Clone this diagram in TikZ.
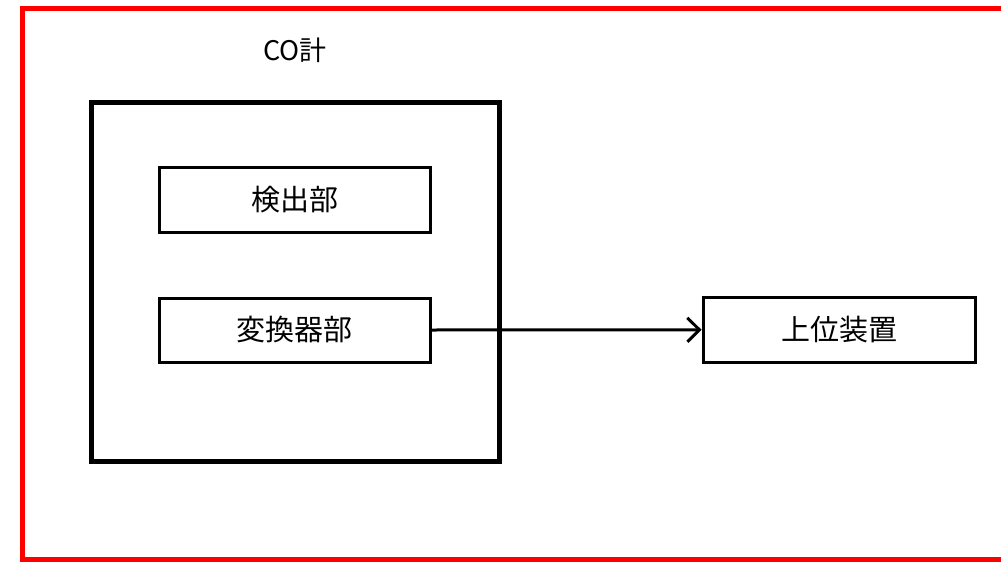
\documentclass[tikz,border=0pt]{standalone}
\usepackage{fontspec}
\setmainfont{Noto Sans CJK JP}
\usetikzlibrary{arrows.meta}
\begin{document}
\begin{tikzpicture}[x=1pt,y=-1pt,
  frame/.style={draw=red,line width=5pt},
  outerbox/.style={draw=black,line width=5pt,inner sep=0pt},
  unitbox/.style={draw=black,line width=3pt,inner sep=0pt,font=\fontsize{29}{32}\selectfont},
  lbl/.style={inner sep=0pt,font=\fontsize{27}{30}\selectfont},
  conn/.style={draw=black,line width=3pt,-{Straight Barb[length=12pt,width=24pt,line width=3pt]}}]
\useasboundingbox (0,0) rectangle (1001,562);
\begin{scope}
\clip (0,0) rectangle (1001,562);
\draw[frame] (1010,8.5) -- (22.5,8.5) -- (22.5,559.5) -- (1010,559.5);
\end{scope}
\node[lbl] (title) at (295,50) {CO計};
\node[outerbox,minimum width=408pt,minimum height=359.5pt] (co) at (295,281.75) {};
\node[unitbox,minimum width=271.5pt,minimum height=65pt] (det) at (294.75,199.5) {検出部};
\node[unitbox,minimum width=271.5pt,minimum height=64pt] (conv) at (294.75,330) {変換器部};
\node[unitbox,minimum width=272pt,minimum height=64.5pt] (host) at (839,329.75) {上位装置};
\draw[conn] (conv.east) -- (host.west);
\end{tikzpicture}
\end{document}
